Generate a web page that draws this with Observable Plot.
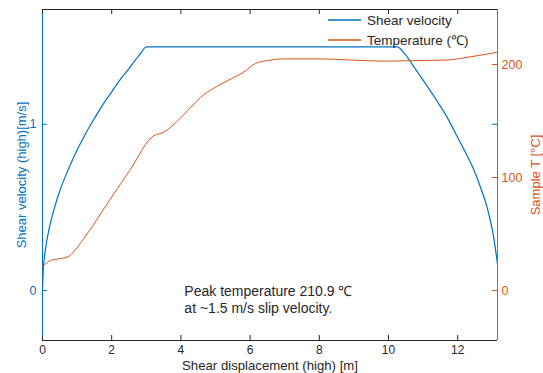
<!DOCTYPE html>
<html><head><meta charset="utf-8">
<script src="https://cdn.jsdelivr.net/npm/d3@7"></script>
<script src="https://cdn.jsdelivr.net/npm/@observablehq/plot@0.6"></script>
<style>
body{margin:0;background:#fff;font-family:"Liberation Sans",Arial,sans-serif;}
#wrap{position:relative;width:543px;height:373px;overflow:hidden;}
#wrap > svg, #wrap > div{position:absolute;left:0;top:0;}
</style></head><body><div id="wrap"></div>
<script>
// Shear velocity (left axis)
const dispV = [0,0.02,0.05,0.1,0.2,0.35,0.5,0.75,1.0,1.25,1.5,1.75,2.0,2.25,2.5,2.7,2.85,3.0,10.25,10.5,10.75,11.0,11.4,11.7,12.0,12.25,12.46,12.66,12.85,13.04,13.15];
const velocity = [0,0.12,0.19,0.27,0.38,0.5,0.6,0.73,0.845,0.945,1.035,1.12,1.195,1.27,1.335,1.39,1.43,1.465,1.465,1.415,1.34,1.265,1.14,1.04,0.92,0.82,0.73,0.62,0.5,0.32,0.16];
// Sample temperature (right axis)
const dispT = [0,0.1,0.23,0.45,0.71,0.95,1.19,1.45,1.68,2.16,2.64,2.93,3.1,3.22,3.5,3.9,4.28,4.57,5.0,5.43,5.8,6.16,6.5,6.97,8.0,8.9,9.86,10.8,11.7,12.3,12.8,13.15];
const temperature = [21,24,26.5,28,29.5,36,46,57,68,90,112,127,134,137,140,150,162,171,180,187,193,201,203.5,205,205,204,203,203.5,204,206.5,209,210.9];
const xTicks = [0,2,4,6,8,10,12];
const vTicks = [0,1];
const tTicks = [0,100,200];
const xLabel = "Shear displacement (high) [m]";
const vLabel = "Shear velocity (high)[m/s]";
const tLabel = "Sample T [°C]";
const seriesNames = ["Shear velocity","Temperature (℃)"];
const note = "Peak temperature 210.9 ℃\nat ~1.5 m/s slip velocity.";

const W=543,H=373,mL=42,mR=46,mT=9,mB=33;
const blue="#0072BD", orange="#D95319", dark="#262626";
const xDom=[0,13.15], vDom=[-0.3,1.69], tDom=[-44.2,248.7];
const font='"Liberation Sans",Arial,sans-serif';
const vData = dispV.map((d,i)=>({d, v: velocity[i]}));
const tData = dispT.map((d,i)=>({d, t: temperature[i]}));
const fmt = d=>String(d);
// inward tick lengths (~5px) expressed in each scale's units
const tx = 5*(xDom[1]-xDom[0])/(W-mL-mR);
const tv = 5*(vDom[1]-vDom[0])/(H-mT-mB);

const common = {width:W,height:H,marginLeft:mL,marginRight:mR,marginTop:mT,marginBottom:mB,
  style:{fontFamily:font,fontSize:"12px",background:"transparent",overflow:"visible"}};

const p1 = Plot.plot({...common,
  x:{domain:xDom},
  y:{domain:vDom},
  marks:[
    Plot.ruleY([vDom[0]],{stroke:dark,strokeWidth:1}),
    Plot.ruleY([vDom[1]],{stroke:dark,strokeWidth:1}),
    Plot.ruleX([0],{stroke:blue,strokeWidth:1}),
    Plot.ruleX(xTicks,{x:d=>d,y1:vDom[0],y2:vDom[0]+tv,stroke:dark}),
    Plot.ruleX(xTicks,{x:d=>d,y1:vDom[1],y2:vDom[1]-tv,stroke:dark}),
    Plot.ruleY(vTicks,{y:d=>d,x1:xDom[0],x2:xDom[0]+tx,stroke:blue}),
    Plot.ruleY([1],{y:d=>d,x1:xDom[1],x2:xDom[1]-tx,stroke:blue}),
    Plot.axisX(xTicks,{anchor:"bottom",tickSize:0,tickPadding:5,tickFormat:fmt,color:dark,label:null,fontSize:12}),
    Plot.axisY(vTicks,{anchor:"left",tickSize:0,tickPadding:6,tickFormat:fmt,color:blue,label:null,fontSize:12.5}),
    Plot.text([xLabel],{frameAnchor:"bottom",dy:25.5,lineAnchor:"middle",textAnchor:"middle",fill:dark,fontSize:13.2}),
    Plot.text([vLabel],{frameAnchor:"left",rotate:-90,dx:-21,textAnchor:"middle",lineAnchor:"middle",fill:blue,fontSize:13}),
    Plot.line(vData,{x:"d",y:"v",stroke:blue,strokeWidth:1.2,curve:"monotone-x"}),
    Plot.text([note],{x:4.1,y:-0.05,textAnchor:"start",lineAnchor:"middle",lineHeight:1.25,fill:dark,fontSize:14})
  ]});

const p2 = Plot.plot({...common,
  x:{domain:xDom,axis:null},
  y:{domain:tDom,axis:null},
  marks:[
    Plot.ruleX([xDom[1]],{stroke:orange,strokeWidth:1}),
    Plot.ruleY(tTicks,{y:d=>d,x1:xDom[1],x2:xDom[1]-tx,stroke:orange}),
    Plot.axisY(tTicks,{anchor:"right",tickSize:0,tickPadding:4,tickFormat:fmt,color:orange,label:null,fontSize:12.5}),
    Plot.text([tLabel],{frameAnchor:"right",rotate:-90,dx:38,textAnchor:"middle",lineAnchor:"middle",fill:orange,fontSize:13}),
    Plot.line(tData,{x:"d",y:"t",stroke:orange,strokeWidth:1,curve:"monotone-x"})
  ]});

const wrap=document.getElementById("wrap");
wrap.appendChild(p1);
wrap.appendChild(p2);

// legend
const leg=document.createElement("div");
leg.style.cssText=`left:328px;top:10px;font-family:${font};font-size:13.5px;color:${dark};`;
const cols=[blue,orange];
leg.innerHTML = seriesNames.map((n,i)=>`<div style="display:flex;align-items:center;height:20px;"><svg width="34" height="20" style="margin-right:5px"><line x1="0" x2="33" y1="10" y2="10" stroke="${cols[i]}" stroke-width="1.5"/></svg><span>${n}</span></div>`).join("");
wrap.appendChild(leg);
</script></body></html>
